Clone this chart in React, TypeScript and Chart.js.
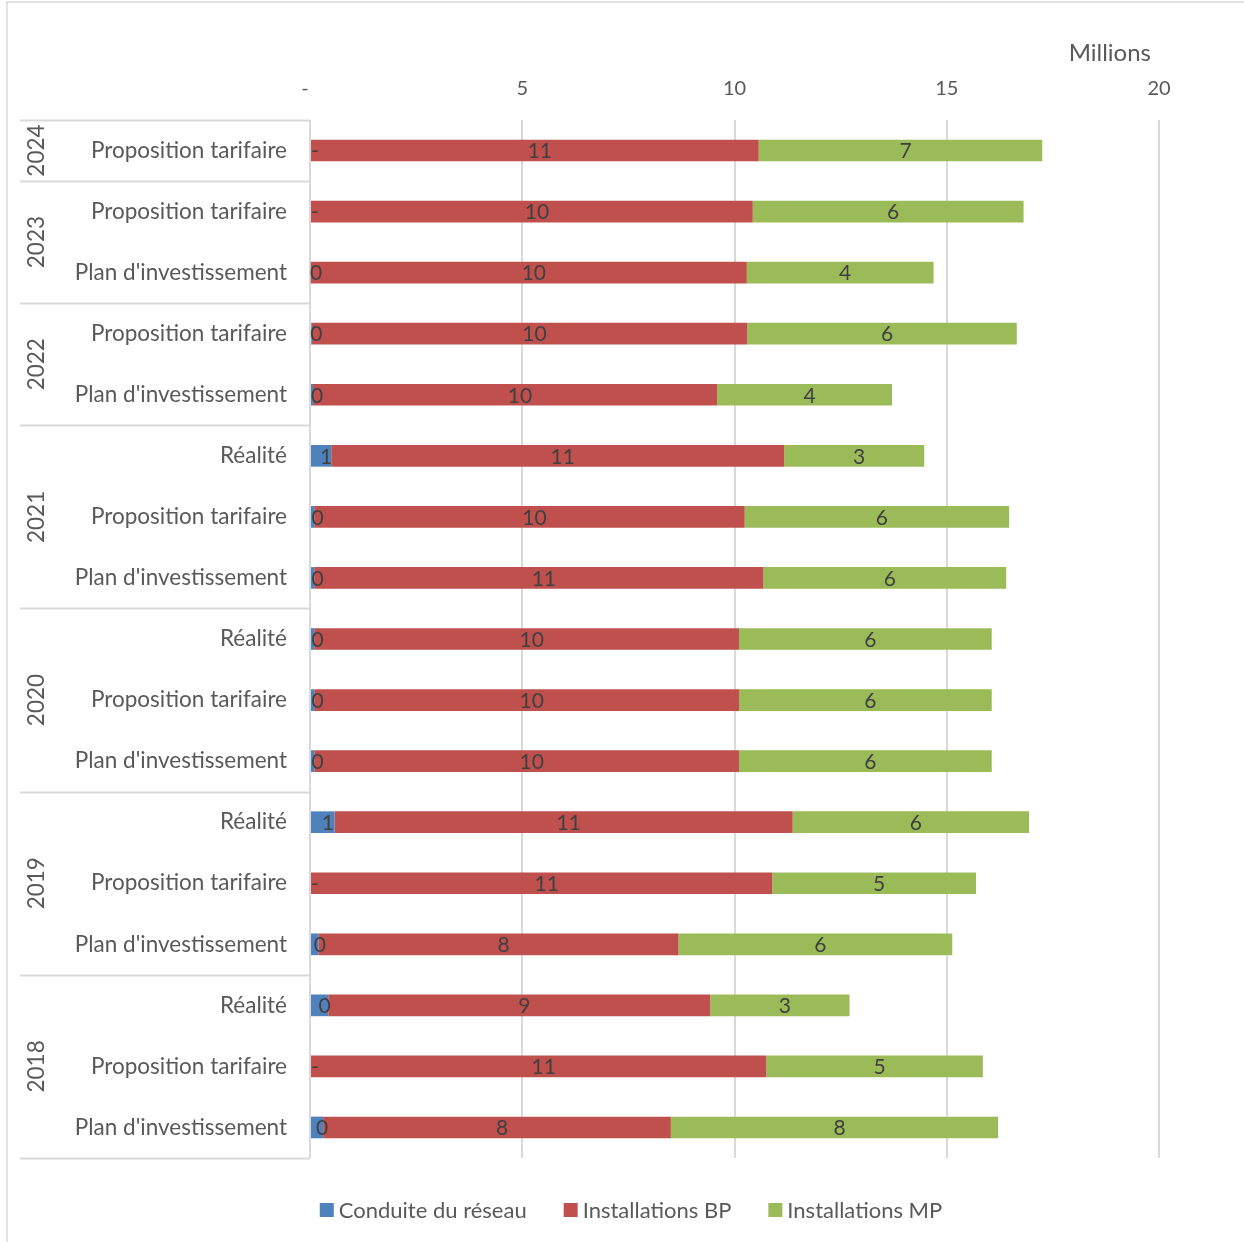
import React, { useEffect, useRef } from 'react';
import { Chart, registerables } from 'chart.js';

Chart.register(...registerables);

// ---------- data ----------
const yearGroups = ['2024', '2023', '2022', '2021', '2020', '2019', '2018'];
const yearGroupSizes = [1, 2, 2, 3, 3, 3, 3];
const subCategories = [
  'Proposition tarifaire',
  'Proposition tarifaire', "Plan d'investissement",
  'Proposition tarifaire', "Plan d'investissement",
  'Réalité', 'Proposition tarifaire', "Plan d'investissement",
  'Réalité', 'Proposition tarifaire', "Plan d'investissement",
  'Réalité', 'Proposition tarifaire', "Plan d'investissement",
  'Réalité', 'Proposition tarifaire', "Plan d'investissement",
];
const seriesNames = ['Conduite du réseau', 'Installations BP', 'Installations MP'];
const seriesColors = ['#4F81BD', '#C0504D', '#9BBB59'];
const conduite = [0, 0, 0.02, 0.04, 0.07, 0.5, 0.1, 0.1, 0.1, 0.1, 0.1, 0.58, 0, 0.2, 0.43, 0, 0.31];
const installBP = [10.57, 10.43, 10.27, 10.26, 9.52, 10.67, 10.14, 10.58, 10.01, 10.01, 10.01, 10.79, 10.89, 8.48, 9.0, 10.75, 8.19];
const installMP = [6.68, 6.38, 4.4, 6.35, 4.12, 3.3, 6.23, 5.72, 5.95, 5.95, 5.95, 5.57, 4.8, 6.45, 3.28, 5.1, 7.71];
const xMin = 0;
const xMax = 20;
const xStep = 5;
const axisUnit = 'Millions';

const FONT = 'Lato';
const TEXT = '#595959';
const LABEL = '#404040';
const GRID = '#D9D9D9';

const fmt = (v: number) => (v === 0 ? '-' : String(Math.round(v)));

const decorPlugin = {
  id: 'decor',
  afterDatasetsDraw(chart: any) {
    const { ctx, chartArea } = chart;
    ctx.save();
    ctx.font = `21px ${FONT}`;
    ctx.fillStyle = LABEL;
    ctx.textAlign = 'center';
    ctx.textBaseline = 'middle';
    chart.data.datasets.forEach((ds: any, di: number) => {
      const meta = chart.getDatasetMeta(di);
      meta.data.forEach((bar: any, i: number) => {
        const v = ds.data[i];
        const txt = fmt(v);
        const w = ctx.measureText(txt).width;
        let cx = (bar.x + bar.base) / 2 + 5;
        if (cx - w / 2 < chartArea.left) cx = chartArea.left + w / 2;
        ctx.fillText(txt, cx, bar.y + 1);
      });
    });
    ctx.restore();
  },
  afterDraw(chart: any) {
    const { ctx, chartArea, scales } = chart;
    const y = scales.y;
    ctx.save();
    // outer border
    ctx.strokeStyle = GRID;
    ctx.lineWidth = 1.5;
    ctx.beginPath();
    ctx.moveTo(7, chart.height);
    ctx.lineTo(7, 2);
    ctx.lineTo(chart.width, 2);
    ctx.stroke();

    // axis unit
    ctx.fillStyle = TEXT;
    ctx.font = `24px ${FONT}`;
    ctx.textAlign = 'right';
    ctx.textBaseline = 'middle';
    ctx.fillText(axisUnit, 1151, 53);

    const n = subCategories.length;
    const boundary = (i: number) => {
      if (i <= 0) return chartArea.top;
      if (i >= n) return chartArea.bottom;
      return (y.getPixelForValue(i - 1) + y.getPixelForValue(i)) / 2;
    };
    // group separators
    ctx.strokeStyle = GRID;
    ctx.lineWidth = 2;
    let start = 0;
    const bounds: number[] = [0];
    yearGroupSizes.forEach((s) => {
      start += s;
      bounds.push(start);
    });
    bounds.forEach((b) => {
      const py = Math.round(boundary(b)) + 0.5;
      ctx.beginPath();
      ctx.moveTo(20, py);
      ctx.lineTo(chartArea.left, py);
      ctx.stroke();
    });

    // sub category labels
    ctx.fillStyle = TEXT;
    ctx.font = `22.5px ${FONT}`;
    ctx.textAlign = 'right';
    ctx.textBaseline = 'middle';
    subCategories.forEach((s, i) => {
      ctx.fillText(s, 287, y.getPixelForValue(i));
    });

    // year labels (rotated)
    yearGroups.forEach((yr, gi) => {
      const top = boundary(bounds[gi]);
      const bot = boundary(bounds[gi + 1]);
      ctx.save();
      ctx.translate(37, (top + bot) / 2);
      ctx.rotate(-Math.PI / 2);
      ctx.textAlign = 'center';
      ctx.textBaseline = 'middle';
      ctx.fillText(yr, 0, 0);
      ctx.restore();
    });

    // legend
    ctx.font = `22px ${FONT}`;
    ctx.textAlign = 'left';
    ctx.textBaseline = 'middle';
    const box = 14;
    const gap = 5;
    const spacing = 37;
    const widths = seriesNames.map((s) => box + gap + ctx.measureText(s).width);
    const total = widths.reduce((a, b) => a + b, 0) + spacing * (widths.length - 1);
    let lx = 631 - total / 2;
    const ly = 1210;
    seriesNames.forEach((s, i) => {
      ctx.fillStyle = seriesColors[i];
      ctx.fillRect(lx, ly - box / 2, box, box);
      ctx.fillStyle = TEXT;
      ctx.fillText(s, lx + box + gap, ly + 1);
      lx += widths[i] + spacing;
    });
    ctx.restore();
  },
};

export default function App() {
  const ref = useRef<HTMLCanvasElement | null>(null);

  useEffect(() => {
    if (!ref.current) return;
    const chart = new Chart(ref.current, {
      type: 'bar',
      data: {
        labels: subCategories.map((s, i) => `${i}|${s}`),
        datasets: [
          { label: seriesNames[0], data: conduite, backgroundColor: seriesColors[0] },
          { label: seriesNames[1], data: installBP, backgroundColor: seriesColors[1] },
          { label: seriesNames[2], data: installMP, backgroundColor: seriesColors[2] },
        ].map((d) => ({ ...d, barPercentage: 0.355, categoryPercentage: 1, borderWidth: 0 })),
      },
      options: {
        indexAxis: 'y',
        animation: false,
        responsive: false,
        maintainAspectRatio: false,
        layout: { padding: { left: 310, right: 85, top: 0, bottom: 84 } },
        plugins: {
          legend: { display: false },
          tooltip: { enabled: false },
        },
        scales: {
          x: {
            position: 'top',
            stacked: true,
            min: xMin,
            max: xMax,
            afterFit: (scale: any) => {
              scale.height = 120;
            },
            ticks: {
              stepSize: xStep,
              padding: 19,
              color: TEXT,
              font: { family: FONT, size: 20 },
              callback: (v: any) => (Number(v) === 0 ? '-  ' : String(v)),
            },
            grid: { color: GRID, lineWidth: 2, drawTicks: false },
            border: { display: false },
          },
          y: {
            stacked: true,
            display: false,
          },
        },
      },
      plugins: [decorPlugin],
    } as any);
    return () => chart.destroy();
  }, []);

  return (
    <div style={{ position: 'fixed', left: 0, top: 0, width: 1244, height: 1242, background: '#fff' }}>
      <canvas ref={ref} width={1244} height={1242} style={{ display: 'block' }} />
    </div>
  );
}
